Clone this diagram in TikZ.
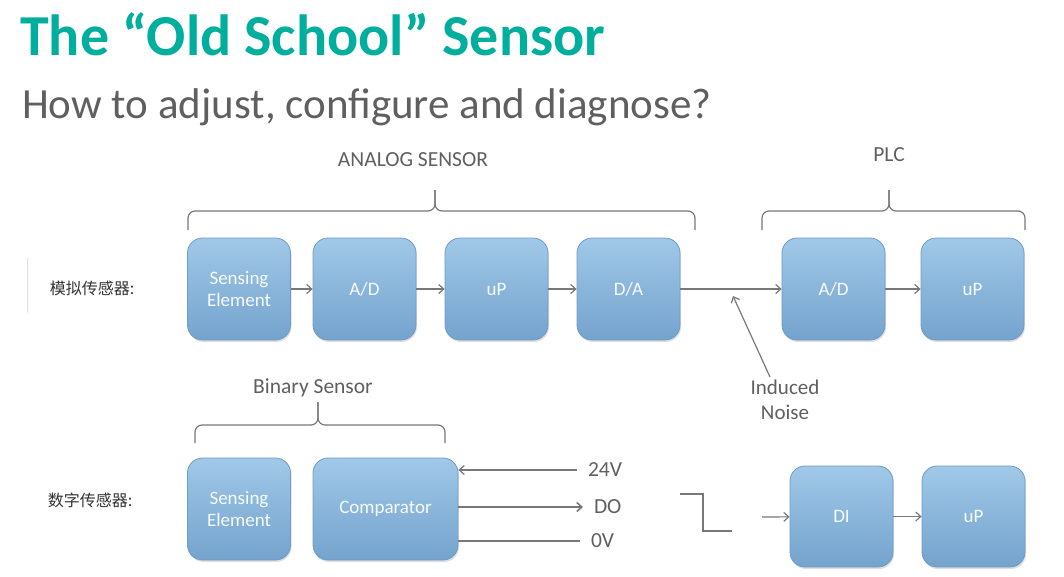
\documentclass[tikz,border=0pt]{standalone}
\usepackage{fontspec}
\setmainfont{Carlito}
\newfontfamily\cjk{Noto Sans CJK SC}
\usetikzlibrary{arrows.meta,shadows}

\definecolor{titlegreen}{RGB}{0,174,158}
\definecolor{subgray}{RGB}{95,95,95}
\definecolor{wiregray}{RGB}{120,120,120}
\definecolor{boxtop}{RGB}{160,200,232}
\definecolor{boxbot}{RGB}{116,163,205}
\definecolor{boxedge}{RGB}{112,155,198}

\begin{document}
\begin{tikzpicture}[x=1pt,y=-1pt,
	block/.style={rectangle, rounded corners=15pt, minimum width=103pt, minimum height=102pt,
		top color=boxtop, bottom color=boxbot, draw=boxedge, line width=0.8pt,
		text=white!92!boxtop, align=center, font=\fontsize{19}{22}\selectfont,
		drop shadow={shadow xshift=1pt, shadow yshift=-2pt, opacity=0.25}},
	wire/.style={draw=wiregray, line width=1.2pt},
	flow/.style={wire, -{Straight Barb[length=5pt,width=9pt]}},
	brace/.style={draw=wiregray, line width=1.2pt, rounded corners=7pt},
	caption/.style={text=subgray, font=\fontsize{21.5}{24}\selectfont},
	pin/.style={caption, anchor=west, inner sep=0pt, outer sep=11pt}]

	\useasboundingbox (0,0) rectangle (1064,576);

	% Title
	\node[anchor=base west, inner sep=0pt, text=titlegreen, font=\fontsize{58}{62}\selectfont\bfseries]
		(title) at (20,55) {The “Old School” Sensor};
	\node[anchor=base west, inner sep=0pt, text=subgray, font=\fontsize{43}{46}\selectfont]
		(subtitle) at (22,118) {How to adjust, configure and diagnose?};

	% Row labels
	\draw[line width=1pt, black!12] (27,258) -- (27,313);
	\node[text=black!80, font=\cjk\fontsize{16}{18}\selectfont] (rowa) at (92,288) {模拟传感器:};
	\node[text=black!80, font=\cjk\fontsize{16}{18}\selectfont] (rowb) at (90,500) {数字传感器:};

	% Analog chain
	\node[block] (sensea) at (239,289) {Sensing\\Element};
	\node[block] (ada) at (364.5,289) {A/D};
	\node[block] (upa) at (496.5,289) {uP};
	\node[block] (da) at (628.5,289) {D/A};
	\node[block] (adb) at (833.5,289) {A/D};
	\node[block] (upb) at (972.5,289) {uP};
	\draw[flow] (sensea) -- (ada);
	\draw[flow] (ada) -- (upa);
	\draw[flow] (upa) -- (da);
	\draw[flow] (da) -- (adb);
	\draw[flow] (adb) -- (upb);

	% Noise
	\node[caption, align=center, font=\fontsize{21}{25}\selectfont] (noise) at (785,400) {Induced\\Noise};
	\coordinate (noisetail) at (770,377);
	\coordinate (noisehit) at (733,296);
	\draw[flow] (noisetail) -- (noisehit);

	% Braces
	\node[caption] (analog) at (413,160) {ANALOG SENSOR};
	\draw[brace] (188,230) -- (188,211) -- (435,211) -- (435,190);
	\draw[brace] (695,230) -- (695,211) -- (435,211) -- (435,190);
	\node[caption] (plc) at (889,155) {PLC};
	\draw[brace] (762,230) -- (762,211) -- (889,211) -- (889,190);
	\draw[brace] (1025,230) -- (1025,211) -- (889,211) -- (889,190);
	\node[caption] (binary) at (313,388) {Binary Sensor};
	\draw[brace] (195,443) -- (195,425) -- (318,425) -- (318,402);
	\draw[brace] (445,443) -- (445,425) -- (318,425) -- (318,402);

	% Binary chain
	\node[block] (senseb) at (239,509) {Sensing\\Element};
	\node[block, minimum width=145pt] (cmp) at (385.5,509) {Comparator};
	\node[pin] (vcc) at (577,470) {24V};
	\node[pin] (dout) at (583,507) {DO};
	\node[pin] (gnd) at (580,541) {0V};
	\draw[flow] (vcc.west) -- (cmp.east |- vcc.west);
	\draw[flow, line width=1.6pt] (cmp.east |- dout.west) -- (dout.west);
	\draw[wire] (cmp.east |- gnd.west) -- (gnd.west);

	% Step signal
	\draw[wire] (680,494) -- (703,494) -- (703,531) -- (732,531);

	\node[block, minimum height=101pt] (di) at (841.5,516.5) {DI};
	\node[block, minimum height=101pt] (upc) at (973.5,516.5) {uP};
	\coordinate (diin) at (762,517);
	\draw[flow] (diin) -- (di);
	\draw[flow] (di) -- (upc);

\end{tikzpicture}
\end{document}
